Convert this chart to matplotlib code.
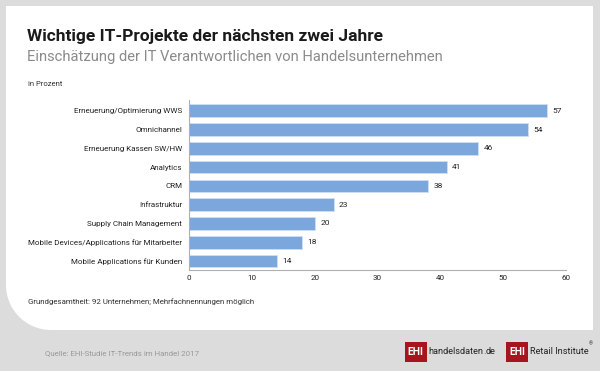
import matplotlib.pyplot as plt
import numpy as np
from matplotlib.path import Path
from matplotlib.patches import PathPatch, Rectangle

# data
categories = ["Erneuerung/Optimierung WWS", "Omnichannel", "Erneuerung Kassen SW/HW",
              "Analytics", "CRM", "Infrastruktur", "Supply Chain Management",
              "Mobile Devices/Applications für Mitarbeiter", "Mobile Applications für Kunden"]
values = [57, 54, 46, 41, 38, 23, 20, 18, 14]
x_ticks = [0, 10, 20, 30, 40, 50, 60]

title = "Wichtige IT-Projekte der nächsten zwei Jahre"
subtitle = "Einschätzung der IT Verantwortlichen von Handelsunternehmen"
unit_note = "in Prozent"
base_note = "Grundgesamtheit: 92 Unternehmen; Mehrfachnennungen möglich"
source = "Quelle: EHI-Studie IT-Trends im Handel 2017"

plt.rcParams['font.family'] = ['Roboto', 'DejaVu Sans']

bar_color = '#7ba7dc'
red = '#a8141e'

fig = plt.figure(figsize=(6, 3.71), dpi=100)
fig.patch.set_facecolor('#dcdcdc')

# background layer in pixel coordinates
bg = fig.add_axes([0, 0, 1, 1])
bg.set_xlim(0, 600)
bg.set_ylim(371, 0)
bg.axis('off')

# white panel, rounded bottom-left corner
r = 45
t = np.linspace(np.pi / 2, np.pi, 30)
arc = np.column_stack([6 + r + r * np.cos(t), 330 - r + r * np.sin(t)])
verts = np.vstack([[[6, 6], [593, 6], [593, 330]], arc, [[6, 6]]])
codes = [Path.MOVETO] + [Path.LINETO] * (len(verts) - 2) + [Path.CLOSEPOLY]
bg.add_patch(PathPatch(Path(verts, codes), facecolor='white', edgecolor='none'))

bg.text(27, 36, title, fontsize=12.5, fontweight='bold', color='#1a1a1a', va='center')
bg.text(27, 57.5, subtitle, fontsize=10.65, color='#8a8a8a', va='center')
bg.text(28, 84.5, unit_note, fontsize=5.5, color='#333333', va='center')
bg.text(28, 302, base_note, fontsize=5.7, color='#333333', va='center')
bg.text(45, 353, source, fontsize=5.7, color='#999999', va='center')

# logos
for x0 in [404.5, 506]:
    bg.add_patch(Rectangle((x0, 341.5), 22, 20, facecolor=red, edgecolor='none'))
    bg.text(x0 + 11, 352, "EHI", color='white', fontsize=7.5, fontweight='bold',
            ha='center', va='center')
t1 = bg.text(428, 351.5, "handelsdaten", fontsize=6.6, color='#222222', va='center')
bg.annotate(".", xycoords=t1, xy=(1, 0.5), va='center', fontsize=6.6, color=red)
bg.annotate("de", xycoords=t1, xy=(1, 0.5), xytext=(2.0, 0), textcoords='offset points',
            va='center', fontsize=6.6, color='#222222')
bg.text(530, 351.5, "Retail Institute", fontsize=6.6, color='#222222', va='center')
bg.text(589, 344, "®", fontsize=3.5, color='#222222', va='center')

# chart
ax = fig.add_axes([189 / 600, 1 - 269.7 / 371, 377 / 600, 169.7 / 371])
ax.set_facecolor('none')
ypos = np.arange(len(categories))
ax.barh(ypos, values, height=0.67, color=bar_color, edgecolor='#cfe0f4', linewidth=0.6)
for y, v in zip(ypos, values):
    ax.annotate(str(v), xy=(v, y), xytext=(4, 0), textcoords='offset points',
                va='center', fontsize=6.0, color='#222222')

ax.set_xlim(0, 60)
ax.set_ylim(len(categories) - 1 + 0.46, -0.57)
ax.set_xticks(x_ticks)
ax.set_xticklabels([str(v) for v in x_ticks])
ax.set_yticks(ypos)
ax.set_yticklabels(categories)
ax.tick_params(axis='both', length=0, labelsize=5.8, labelcolor='#222222')
ax.tick_params(axis='x', pad=4)
ax.tick_params(axis='y', pad=5)
for side in ['top', 'right']:
    ax.spines[side].set_visible(False)
for side in ['left', 'bottom']:
    ax.spines[side].set_color('#b0b0b0')
    ax.spines[side].set_linewidth(0.8)

fig.savefig('out.png', dpi=100, facecolor=fig.get_facecolor())
